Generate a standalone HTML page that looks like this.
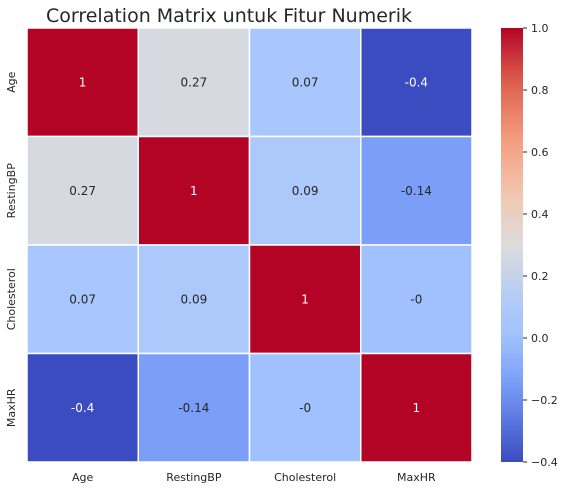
<!DOCTYPE html>
<html><head><meta charset="utf-8"><style>
body{margin:0;background:#fff;font-family:"DejaVu Sans","Liberation Sans",sans-serif}
</style></head><body>
<svg width="565" height="489" xmlns="http://www.w3.org/2000/svg" font-family="DejaVu Sans, Liberation Sans, sans-serif">
<defs><linearGradient id="cb" x1="0" y1="1" x2="0" y2="0"></linearGradient></defs>
<text x="229" y="22" font-size="19" fill="#262626" text-anchor="middle">Correlation Matrix untuk Fitur Numerik</text>
<g id="cells"></g>
<g id="labels"></g>
<rect x="501" y="28" width="22" height="434" fill="url(#cb)"/>
<g id="cbticks"></g>
</svg>
<script>
const features=["Age","RestingBP","Cholesterol","MaxHR"];
const values=[[1,0.27,0.07,-0.4],[0.27,1,0.09,-0.14],[0.07,0.09,1,-0.0],[-0.4,-0.14,-0.0,1]];
const printed=[["1","0.27","0.07","-0.4"],["0.27","1","0.09","-0.14"],["0.07","0.09","1","-0"],["-0.4","-0.14","-0","1"]];
const cbTicks=[-0.4,-0.2,0.0,0.2,0.4,0.6,0.8,1.0];
const vmin=-0.4,vmax=1.0;
const X0=27,X1=472,Y0=28,Y1=462;
const stops=[[0,[59,76,192]],[0.186,[123,159,249]],[0.29,[163,194,254]],[0.34,[170,199,253]],[0.5,[221,220,220]],[0.625,[244,197,173]],[0.75,[244,154,123]],[0.875,[222,97,77]],[1,[180,4,38]]];
function cmap(t){t=Math.max(0,Math.min(1,t));for(let i=1;i<stops.length;i++){if(t<=stops[i][0]){const a=stops[i-1],b=stops[i];const f=(t-a[0])/(b[0]-a[0]);const c=a[1].map((v,k)=>Math.round(v+(b[1][k]-v)*f));return c;}}return stops[stops.length-1][1];}
const n=features.length,cw=(X1-X0)/n,ch=(Y1-Y0)/n;
const xs=i=>X0+i*cw, ys=j=>Y0+j*ch, yv=v=>Y1-(v-vmin)/(vmax-vmin)*(Y1-Y0);
const NS="http://www.w3.org/2000/svg";
function mk(tag,attrs,parent,txt){const e=document.createElementNS(NS,tag);for(const k in attrs)e.setAttribute(k,attrs[k]);if(txt!==undefined)e.textContent=txt;document.getElementById(parent)?document.getElementById(parent).appendChild(e):parent.appendChild(e);return e;}
for(let r=0;r<n;r++)for(let c=0;c<n;c++){
 const v=values[r][c],t=(v-vmin)/(vmax-vmin),col=cmap(t);
 const rc=mk('rect',{x:xs(c),y:ys(r),width:cw,height:ch,fill:`rgb(${col})`,stroke:'#fff','stroke-width':1.5},'cells');
 
 
 const lum=0.299*col[0]+0.587*col[1]+0.114*col[2];
 const tx=mk('text',{x:xs(c)+cw/2,y:ys(r)+ch/2+4,'font-size':12,'text-anchor':'middle',fill:lum<140||v>=0.99?'#fff':'#262626'},'cells',printed[r][c]);
 
 
}
features.forEach((f,i)=>{
 const a=mk('text',{x:xs(i)+cw/2,y:481,'font-size':11,'text-anchor':'middle',fill:'#262626'},'labels',f);
 
 
 const cy=ys(i)+ch/2;
 const b=mk('text',{x:15,y:cy,'font-size':11,'text-anchor':'middle',fill:'#262626',transform:`rotate(-90 15 ${cy})`},'labels',f);
 
 
});
const g=document.getElementById('cb');
for(let i=0;i<=20;i++){const t=i/20;const s=mk('stop',{offset:t,'stop-color':`rgb(${cmap(t)})`},g);}
cbTicks.forEach(v=>{
 const y=yv(v);
 const l=mk('line',{x1:523,x2:527,y1:y,y2:y,stroke:'#262626','stroke-width':1},'cbticks');
 
 
 const t=mk('text',{x:531,y:y+4,'font-size':11,fill:'#262626'},'cbticks',(v<0?'\u2212':'')+Math.abs(v).toFixed(1));
 
 
});
</script>
</body></html>
